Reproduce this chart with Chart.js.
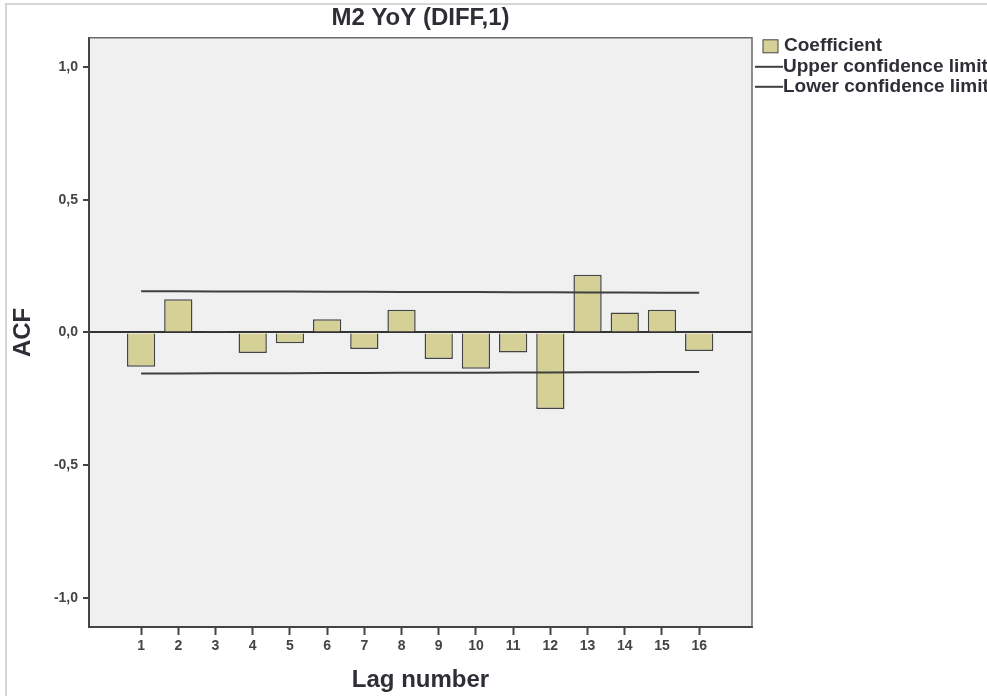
<!DOCTYPE html>
<html lang="en">
<head>
    <meta charset="UTF-8">
    <title>M2 YoY (DIFF,1)</title>
    <script src="https://cdn.jsdelivr.net/npm/chart.js"></script>
    <style>
        body {
            margin: 0;
            background: #fff;
        }

        /* Tamanho fixo igual ao da imagem */
        .chart-box {
            width: 987px;
            height: 696px;
            position: relative;
        }
    </style>
</head>
<body>

    <div class="chart-box">
        <canvas id="acfChart"></canvas>
    </div>

    <script>
        // Valores (ACF por lag)
        const lags = [1, 2, 3, 4, 5, 6, 7, 8, 9, 10, 11, 12, 13, 14, 15, 16];
        const coefficient = [-0.129, 0.125, 0.004, -0.078, -0.041, 0.050, -0.063, 0.085,
                             -0.100, -0.137, -0.076, -0.289, 0.217, 0.075, 0.085, -0.070];
        const upperLimit = [0.155, 0.155, 0.154, 0.154, 0.154, 0.153, 0.153, 0.152,
                            0.152, 0.152, 0.151, 0.151, 0.150, 0.150, 0.149, 0.149];
        const lowerLimit = [-0.155, -0.155, -0.154, -0.154, -0.154, -0.153, -0.153, -0.152,
                            -0.152, -0.152, -0.151, -0.151, -0.150, -0.150, -0.149, -0.149];
        const yTicks = [-1, -0.5, 0, 0.5, 1];

        const barColor = '#d5d196';
        const lineColor = '#3f3f3f';
        const textColor = '#2e2e36';
        const fontFamily = '"Liberation Sans", Arial, sans-serif';

        // Fundo cinza da área do gráfico, moldura e legenda
        const plotFrame = {
            id: 'plotFrame',
            beforeDraw(chart) {
                const { ctx, chartArea: a } = chart;
                ctx.save();
                ctx.fillStyle = '#fff';
                ctx.fillRect(0, 0, chart.width, chart.height);
                ctx.strokeStyle = '#d6d6d6';
                ctx.lineWidth = 2;
                ctx.strokeRect(6, 4, chart.width + 20, chart.height + 20);
                ctx.fillStyle = '#f0f0f0';
                ctx.fillRect(a.left, a.top, a.right - a.left, a.bottom - a.top);
                ctx.restore();
            },
            afterDraw(chart) {
                const { ctx, chartArea: a } = chart;
                const ds = chart.data.datasets;
                ctx.save();
                // moldura superior e direita
                ctx.strokeStyle = '#6a6a6a';
                ctx.lineWidth = 1.5;
                ctx.beginPath();
                ctx.moveTo(a.left, a.top);
                ctx.lineTo(a.right, a.top);
                ctx.lineTo(a.right, a.bottom);
                ctx.stroke();

                // legenda
                const x0 = a.right + 3;
                ctx.font = 'bold 19px ' + fontFamily;
                ctx.textBaseline = 'middle';
                ctx.fillStyle = ds[0].backgroundColor;
                ctx.fillRect(x0 + 8, a.top + 2, 15, 13);
                ctx.strokeStyle = ds[0].borderColor;
                ctx.lineWidth = 1;
                ctx.strokeRect(x0 + 8, a.top + 2, 15, 13);
                ctx.fillStyle = textColor;
                ctx.fillText(ds[0].label, x0 + 29, a.top + 8);

                [ds[1], ds[2]].forEach((d, i) => {
                    const y = a.top + 29 + i * 20;
                    ctx.strokeStyle = d.borderColor;
                    ctx.lineWidth = 2;
                    ctx.beginPath();
                    ctx.moveTo(x0, y);
                    ctx.lineTo(x0 + 28, y);
                    ctx.stroke();
                    ctx.fillStyle = textColor;
                    ctx.fillText(d.label, x0 + 28, y);
                });
                ctx.restore();
            }
        };

        const ctx = document.getElementById('acfChart').getContext('2d');
        const acfChart = new Chart(ctx, {
            type: 'bar',
            data: {
                datasets: [{
                    label: 'Coefficient',
                    data: lags.map((l, i) => ({ x: l, y: coefficient[i] })),
                    backgroundColor: barColor,
                    borderColor: '#444',
                    borderWidth: 1.5,
                    barPercentage: 0.76,
                    categoryPercentage: 1,
                    order: 2
                }, {
                    type: 'line',
                    label: 'Upper confidence limit',
                    data: lags.map((l, i) => ({ x: l, y: upperLimit[i] })),
                    borderColor: lineColor,
                    borderWidth: 2,
                    pointRadius: 0,
                    fill: false,
                    order: 0
                }, {
                    type: 'line',
                    label: 'Lower confidence limit',
                    data: lags.map((l, i) => ({ x: l, y: lowerLimit[i] })),
                    borderColor: lineColor,
                    borderWidth: 2,
                    pointRadius: 0,
                    fill: false,
                    order: 0
                }]
            },
            options: {
                responsive: true,
                maintainAspectRatio: false,
                animation: false,
                layout: {
                    padding: { left: 0, right: 235, top: 0, bottom: 0 }
                },
                plugins: {
                    legend: { display: false },
                    tooltip: { enabled: false },
                    title: {
                        display: true,
                        text: 'M2 YoY (DIFF,1)',
                        fullSize: false,
                        color: textColor,
                        font: { family: fontFamily, size: 24, weight: 'bold' },
                        padding: { top: 4, bottom: 5 }
                    }
                },
                scales: {
                    x: {
                        type: 'linear',
                        min: -0.4,
                        max: 17.42,
                        offset: false,
                        afterBuildTicks: (scale) => {
                            scale.ticks = lags.map(v => ({ value: v }));
                        },
                        afterFit: (scale) => { scale.height = 69; },
                        grid: {
                            offset: false,
                            drawOnChartArea: false,
                            tickLength: 8,
                            tickColor: '#444',
                            tickWidth: 2
                        },
                        border: { display: true, color: '#444', width: 2 },
                        ticks: {
                            autoSkip: false,
                            maxRotation: 0,
                            padding: 3,
                            color: '#444',
                            font: { family: fontFamily, size: 14, weight: 'bold' }
                        },
                        title: {
                            display: true,
                            text: 'Lag number',
                            color: textColor,
                            font: { family: fontFamily, size: 24, weight: 'bold' },
                            padding: { top: 0, bottom: 1 }
                        }
                    },
                    y: {
                        min: -1.11,
                        max: 1.11,
                        afterBuildTicks: (scale) => {
                            scale.ticks = yTicks.map(v => ({ value: v }));
                        },
                        afterFit: (scale) => { scale.width = 89; },
                        grid: {
                            color: (c) => (c.tick && c.tick.value === 0 ? '#333' : 'rgba(0,0,0,0)'),
                            lineWidth: 2,
                            tickLength: 6,
                            tickColor: '#444',
                            tickWidth: 2
                        },
                        border: { display: true, color: '#444', width: 2 },
                        ticks: {
                            padding: 5,
                            color: '#444',
                            font: { family: fontFamily, size: 14, weight: 'bold' },
                            callback: (v) => v.toFixed(1).replace('.', ',')
                        },
                        title: {
                            display: true,
                            text: 'ACF',
                            color: textColor,
                            font: { family: fontFamily, size: 24, weight: 'bold' },
                            padding: { top: 9, bottom: 0 }
                        }
                    }
                }
            },
            plugins: [plotFrame]
        });
    </script>

</body>
</html>
